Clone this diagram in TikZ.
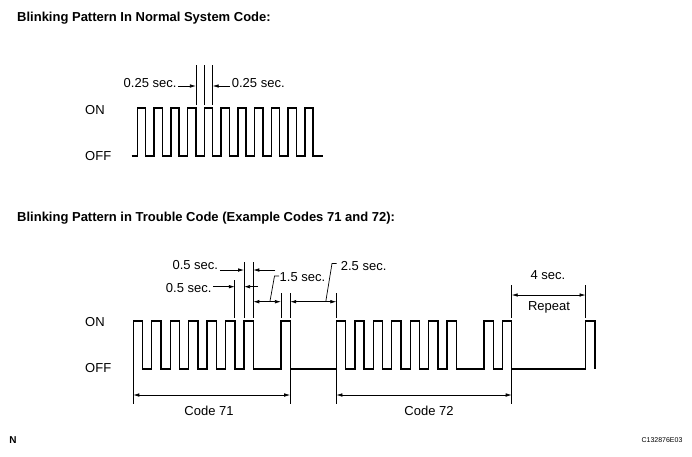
\documentclass[tikz,border=0pt]{standalone}
\usepackage{fontspec}
\setmainfont{Liberation Sans}
\usetikzlibrary{arrows.meta,calc,positioning}
\tikzset{
	blink diagram/.style={
		x=1pt, y=-1pt,
		signal/.style={line width=1.4pt},
		ext/.style={line width=.7pt},
		dim/.style={line width=.7pt, {Latex[length=6pt,width=3.6pt]}-{Latex[length=6pt,width=3.6pt]}},
		dim to/.style={line width=.7pt, -{Latex[length=6pt,width=3.6pt]}},
		txt/.style={font=\fontsize{13}{15}\selectfont, inner sep=0pt},
		heading/.style={font=\fontsize{13}{15}\selectfont\bfseries, inner sep=0pt, anchor=base west}
		},
	% time base of the two traces
	na half/.store in=\nahalf,
	na half=8.375,
	na start/.store in=\nastart,
	na start=137.3,
	tr half/.store in=\trhalf,
	tr half=9.23,
	tr start/.store in=\trstart,
	tr start=133.3
}
\begin{document}
\begin{tikzpicture}[blink diagram]
	\useasboundingbox (0,0) rectangle (692,456);
	% normal system code
	\node[heading] (head1) at (17,21.5) {Blinking Pattern In Normal System Code:};
	\node[txt, anchor=west] (on1) at (85,110) {ON};
	\node[txt, anchor=west] (off1) at (85,156.5) {OFF};
	\draw[signal] (131.5,156) foreach \k in {0,...,10} {
		-- ({\nastart+2*\k*\nahalf},156) -- ++(0,-48) -- ++(\nahalf,0) -- ++(0,48)} -- (323,156);
	\foreach \s in {7,8,9}
		\coordinate (n\s) at ({\nastart+\s*\nahalf},108);
	\foreach \s in {7,8,9}
		\draw[ext] (n\s) ++(0,-3) -- ++(0,-40);
	\coordinate (ya) at (0,86);
	\node[txt, anchor=east] (q1) at (176.7,83.5) {0.25 sec.};
	\node[txt, anchor=west] (q2) at (231.7,83.5) {0.25 sec.};
	\draw[dim to] (q1.east |- ya) ++(1.5,0) -- (n7 |- ya);
	\draw[dim to] (q2.west |- ya) ++(-1.5,0) -- (n9 |- ya);
	% trouble code
	\node[heading] (head2) at (17,221.7) {Blinking Pattern in Trouble Code (Example Codes 71 and 72):};
	\node[txt, anchor=west] (on2) at (85,322) {ON};
	\node[txt, anchor=west] (off2) at (85,368) {OFF};
	\draw[signal] (\trstart,369) foreach \s in {0,2,4,6,8,10,12,16,22,24,26,28,30,32,34,38,40,49} {
		-- ({\trstart+\s*\trhalf},369) -- ++(0,-48) -- ++(\trhalf,0) -- ++(0,48)};
	\foreach \s in {0,11,12,13,16,17,22,41,49}
		\coordinate (t\s) at ({\trstart+\s*\trhalf},321);
	\foreach \s/\len in {11/38,12/56.3,13/56.3,16/24.7,17/24.7,22/24.7,41/33,49/33}
		\draw[ext] (t\s) ++(0,-3) -- ++(0,-\len);
	\foreach \s in {0,17,22,41}
		\draw[ext] (t\s) ++(0,48) -- ++(0,35);
	\coordinate (y05a) at (0,270);
	\coordinate (y05b) at (0,286.7);
	\coordinate (yspan) at (0,301.7);
	\coordinate (yrep) at (0,295);
	\coordinate (ycode) at (0,395);
	% 0.5 sec.
	\node[txt, anchor=east] (h1) at (218.3,265) {0.5 sec.};
	\draw[dim to] (h1.east |- y05a) ++(1.5,0) -- (t12 |- y05a);
	\draw[dim to] (t13 |- y05a) ++(22,0) -- (t13 |- y05a);
	\node[txt, anchor=east] (h2) at (211.7,288.5) {0.5 sec.};
	\draw[dim to] (h2.east |- y05b) ++(1.5,0) -- (t11 |- y05b);
	\draw[dim to] (t12 |- y05b) ++(14,0) -- (t12 |- y05b);
	% 1.5 sec. and 2.5 sec.
	\draw[dim] (t13 |- yspan) -- (t16 |- yspan);
	\node[txt, anchor=west] (h3) at (279.5,277.5) {1.5 sec.};
	\draw[ext] ($(t13 |- yspan)!.6!(t16 |- yspan)$) -- ([xshift=-5pt,yshift=1.5pt]h3.west) -- ([xshift=-.5pt,yshift=1.5pt]h3.west);
	\draw[dim] (t17 |- yspan) -- (t22 |- yspan);
	\node[txt, anchor=west] (h4) at (340.7,266) {2.5 sec.};
	\draw[ext] ($(t17 |- yspan)!.77!(t22 |- yspan)$) -- ([xshift=-8.7pt,yshift=2.5pt]h4.west) -- ([xshift=-4.2pt,yshift=2.5pt]h4.west);
	% repeat
	\draw[dim] (t41 |- yrep) -- (t49 |- yrep);
	\node[txt] (h5) at (548,275) {4 sec.};
	\node[txt] (rep) at (549,307.5) {Repeat};
	% code spans
	\draw[dim] (t0 |- ycode) -- (t17 |- ycode);
	\draw[dim] (t22 |- ycode) -- (t41 |- ycode);
	\node[txt] (c71) at (209,411) {Code 71};
	\node[txt] (c72) at (429,411) {Code 72};
	\node[font=\fontsize{10}{12}\selectfont\bfseries, inner sep=0pt] (figN) at (13,440) {N};
	\node[font=\fontsize{7}{8}\selectfont, inner sep=0pt] (figId) at (662,440) {C132876E03};
\end{tikzpicture}
\end{document}
